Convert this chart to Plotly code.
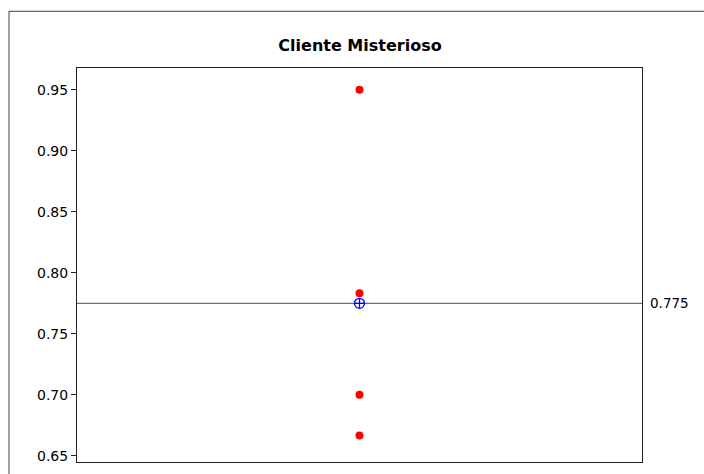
import plotly.graph_objects as go

title = "Cliente Misterioso"
values = [0.95, 0.7833, 0.70, 0.6667]
category_x = [1, 1, 1, 1]
mean_value = sum(values) / len(values)
y_ticks = [0.65, 0.70, 0.75, 0.80, 0.85, 0.90, 0.95]

W, H = 704, 474
L, R, T, B = 77, 62, 68, 10
pw, ph = W - L - R, H - T - B

fig = go.Figure()
fig.add_trace(go.Scatter(
    x=category_x, y=values, mode="markers",
    marker=dict(color="#ff0000", size=8, line=dict(width=0)),
    showlegend=False, hoverinfo="y"))
fig.add_trace(go.Scatter(
    x=[1], y=[mean_value], mode="markers",
    marker=dict(symbol="circle-cross-open", color="#0000ff", size=10, line=dict(width=1.3, color="#0000ff")),
    showlegend=False, hoverinfo="y"))

# mean reference line
fig.add_shape(type="line", xref="paper", yref="y", x0=0, x1=1, y0=mean_value, y1=mean_value,
              line=dict(color="#707070", width=1.2), layer="below")
fig.add_annotation(xref="paper", yref="y", x=1, y=mean_value, text=f"{mean_value:.3f}",
                   showarrow=False, xanchor="left", xshift=6,
                   font=dict(family="DejaVu Sans", size=13.5, color="#000000"))

# outer frame
fx0 = (9 - L) / pw
fy1 = 1 + (T - 11) / ph
fig.add_shape(type="rect", xref="paper", yref="paper", x0=fx0, x1=1.3, y0=-0.2, y1=fy1,
              line=dict(color="#404040", width=1), fillcolor="rgba(0,0,0,0)")

fig.update_layout(
    width=W, height=H,
    margin=dict(l=L, r=R, t=T, b=B),
    paper_bgcolor="white", plot_bgcolor="white",
    title=dict(text=f"<b>{title}</b>", x=(360) / W, xanchor="center", y=1 - 45 / H, yanchor="middle",
               font=dict(family="DejaVu Sans", size=16, color="#000000")),
    font=dict(family="DejaVu Sans", size=14, color="#000000"),
    xaxis=dict(range=[0, 2], showticklabels=False, ticks="", showgrid=False, zeroline=False,
               showline=True, linecolor="#202020", linewidth=1, mirror=True),
    yaxis=dict(range=[0.645, 0.9678], tickvals=y_ticks, ticktext=[f"{v:.2f}" for v in y_ticks],
               ticks="outside", ticklen=5, tickcolor="#202020", showgrid=False, zeroline=False,
               showline=True, linecolor="#202020", linewidth=1, mirror=True),
)

fig.write_html("out.html")
